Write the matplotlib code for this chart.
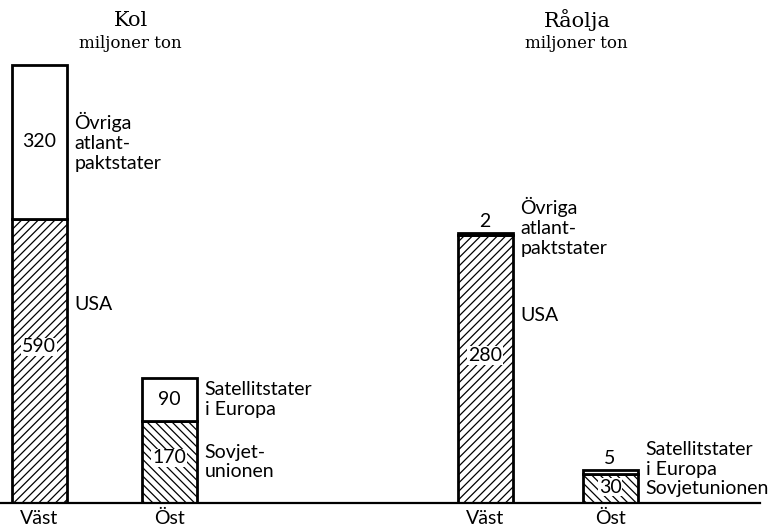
import matplotlib.pyplot as plt
from matplotlib.lines import Line2D

# stacked production figures, miljoner ton
categories = ['Väst', 'Öst']
kol_bottom = [590, 170]     # USA, Sovjetunionen
kol_top = [320, 90]         # Övriga atlantpaktstater, Satellitstater i Europa
olja_bottom = [280, 30]
olja_top = [2, 5]

bottom_names_kol = ['USA', 'Sovjet-\nunionen']
bottom_names_olja = ['USA', 'Sovjetunionen']
top_names = ['Övriga\natlant-\npaktstater', 'Satellitstater\ni Europa']

SANS = ['Lato', 'DejaVu Sans']
SERIF = ['DejaVu Serif']
FS = 14
LS = 1.2

plt.rcParams['hatch.linewidth'] = 0.9

fig = plt.figure(figsize=(7.74, 5.31), dpi=100)
W, H = 774.0, 531.0
base_px = 503.0  # baseline, px from top

def draw_panel(ax, bottom, top, bottom_names, px_per_unit, unit_px, first_px,
               top_inside, name_top_at_stack):
    left_px = ax.get_position().x0 * W
    right_px = ax.get_position().x1 * W
    ax.set_xlim(-(first_px - left_px) / unit_px, (right_px - first_px) / unit_px)
    ax.set_ylim(0, base_px / px_per_unit)
    width = 55.0 / unit_px
    x = list(range(len(categories)))
    hatches = ['////', '\\\\\\\\']
    for i in x:
        ax.bar(i, bottom[i], width, color='white', edgecolor='black',
               hatch=hatches[i], linewidth=2.0, zorder=3)
        ax.bar(i, top[i], width, bottom=bottom[i], color='white',
               edgecolor='black', linewidth=2.0, zorder=3)
        # value in lower segment
        ax.text(i, bottom[i] * 0.55, str(bottom[i]), ha='center', va='center',
                fontsize=FS, family=SANS, zorder=5,
                bbox=dict(fc='white', ec='none', pad=0.5))
        # value in / above upper segment
        if top_inside:
            ax.text(i, bottom[i] + top[i] / 2, str(top[i]), ha='center',
                    va='center', fontsize=FS, family=SANS, zorder=5)
        else:
            ax.annotate(str(top[i]), (i, bottom[i] + top[i]), xytext=(0, 3),
                        textcoords='offset pixels', ha='center', va='bottom',
                        fontsize=FS, family=SANS)
        # names to the right of the bar
        xr = i + width / 2
        if name_top_at_stack:
            dy = 6 if i == 0 else 10
            ax.annotate(top_names[i], (xr, bottom[i] + top[i]), xytext=(8, dy),
                        textcoords='offset pixels', ha='left', va='center',
                        fontsize=FS, family=SANS, linespacing=LS)
        else:
            ax.annotate(top_names[i], (xr, bottom[i] + top[i] / 2),
                        xytext=(8, 0), textcoords='offset pixels', ha='left',
                        va='center', fontsize=FS, family=SANS, linespacing=LS)
        frac = 0.7 if i == 0 else 0.5
        ax.annotate(bottom_names[i], (xr, bottom[i] * frac), xytext=(8, 0),
                    textcoords='offset pixels', ha='left', va='center',
                    fontsize=FS, family=SANS, linespacing=LS)
        ax.annotate(categories[i], (i, 0), xytext=(0, -7),
                    textcoords='offset pixels', ha='center', va='top',
                    fontsize=FS, family=SANS)
    ax.axis('off')

ax1 = fig.add_axes([0.0, 28 / H, 387 / W, base_px / H])
ax2 = fig.add_axes([387 / W, 28 / H, 387 / W, base_px / H])

draw_panel(ax1, kol_bottom, kol_top, bottom_names_kol, 0.4814, 130.0, 39.0,
           True, False)
draw_panel(ax2, olja_bottom, olja_top, bottom_names_olja, 0.957, 125.0, 485.0,
           False, True)

# common baseline across both panels
fig.add_artist(Line2D([0, 760 / W], [28 / H, 28 / H], color='black',
                      linewidth=1.6, zorder=2))

fig.text(131 / W, 1 - 20 / H, 'Kol', ha='center', va='center',
         fontsize=15, family=SERIF)
fig.text(130 / W, 1 - 44 / H, 'miljoner ton', ha='center', va='center',
         fontsize=12, family=SERIF)
fig.text(577 / W, 1 - 20 / H, 'Råolja', ha='center', va='center',
         fontsize=15, family=SERIF)
fig.text(576 / W, 1 - 44 / H, 'miljoner ton', ha='center', va='center',
         fontsize=12, family=SERIF)

fig.savefig('out.png', dpi=100)
